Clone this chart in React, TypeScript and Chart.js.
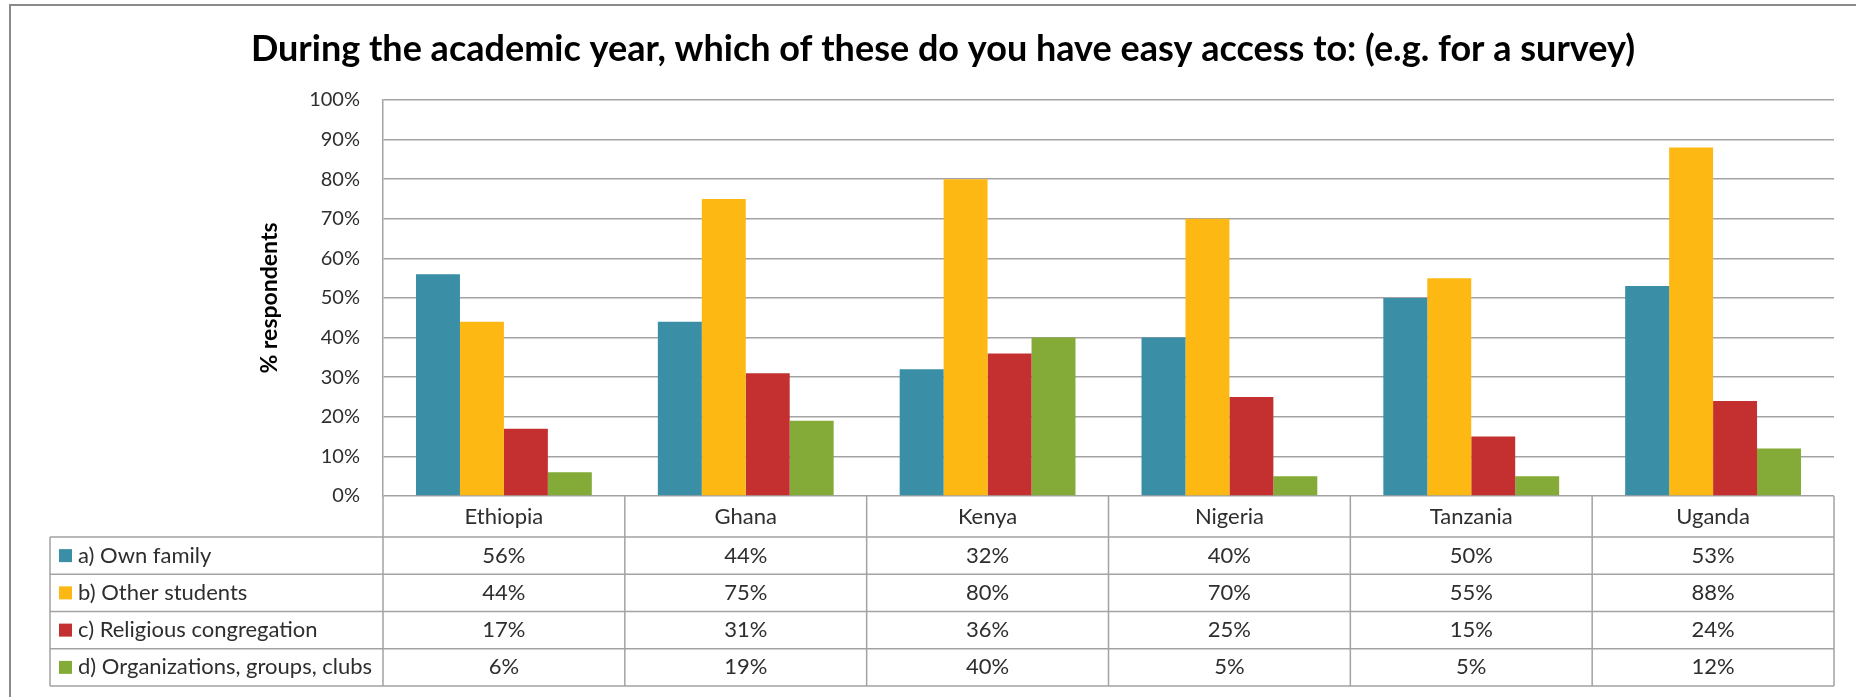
import { useEffect, useRef } from 'react';
import { Chart, registerables } from 'chart.js';

Chart.register(...registerables);

const titleText = 'During the academic year, which of these do you have easy access to: (e.g. for a survey)';
const yAxisTitle = '% respondents';

const categories = ['Ethiopia', 'Ghana', 'Kenya', 'Nigeria', 'Tanzania', 'Uganda'];
const seriesNames = [
  'a) Own family',
  'b) Other students',
  'c) Religious congregation',
  'd) Organizations, groups, clubs',
];
const ownFamily = [56, 44, 32, 40, 50, 53];
const otherStudents = [44, 75, 80, 70, 55, 88];
const religiousCongregation = [17, 31, 36, 25, 15, 24];
const organizationsGroupsClubs = [6, 19, 40, 5, 5, 12];
const seriesColors = ['#3A8EA6', '#FDB813', '#C3302F', '#84AB37'];

const FONT = 'Lato, "Open Sans", sans-serif';
const GRID = '#a3a3a3';
const TEXT = '#2e2e2e';

const framePlugin = {
  id: 'frame',
  beforeDraw(chart: any) {
    const { ctx } = chart;
    ctx.save();
    ctx.fillStyle = '#ffffff';
    ctx.fillRect(0, 0, chart.width, chart.height);
    ctx.strokeStyle = '#8a8a8a';
    ctx.lineWidth = 2;
    ctx.strokeRect(10, 5, chart.width + 20, chart.height + 20);
    ctx.restore();
  },
};

const tablePlugin = {
  id: 'dataTable',
  afterDraw(chart: any) {
    const { ctx, chartArea } = chart;
    const xs = chart.scales.x;
    const n = categories.length;
    const step = (chartArea.right - chartArea.left) / n;
    const bounds: number[] = [];
    for (let i = 0; i <= n; i++) bounds.push(chartArea.left + i * step);
    const top = chartArea.bottom;
    const headerH = 41;
    const rowH = 37.25;
    const tableLeft = 50;
    const rowsTop = top + headerH;
    const values = [ownFamily, otherStudents, religiousCongregation, organizationsGroupsClubs];
    const bottom = rowsTop + rowH * values.length;

    ctx.save();
    ctx.strokeStyle = GRID;
    ctx.lineWidth = 1.5;
    ctx.beginPath();
    bounds.forEach((b) => {
      ctx.moveTo(b, top);
      ctx.lineTo(b, bottom);
    });
    ctx.moveTo(tableLeft, rowsTop);
    ctx.lineTo(tableLeft, bottom);
    for (let r = 0; r <= values.length; r++) {
      const y = rowsTop + r * rowH;
      ctx.moveTo(tableLeft, y);
      ctx.lineTo(chartArea.right, y);
    }
    ctx.stroke();

    ctx.fillStyle = TEXT;
    ctx.font = `22px ${FONT}`;
    ctx.textBaseline = 'middle';
    ctx.textAlign = 'center';
    categories.forEach((c, i) => {
      ctx.fillText(c, xs.getPixelForValue(i), top + headerH / 2);
    });
    values.forEach((vals, r) => {
      const yMid = rowsTop + r * rowH + rowH / 2;
      vals.forEach((v, i) => {
        ctx.fillStyle = TEXT;
        ctx.textAlign = 'center';
        ctx.fillText(`${v}%`, xs.getPixelForValue(i), yMid);
      });
      ctx.fillStyle = seriesColors[r];
      ctx.fillRect(59, yMid - 6.5, 13, 13);
      ctx.fillStyle = TEXT;
      ctx.textAlign = 'left';
      ctx.fillText(seriesNames[r], 78, yMid);
    });
    ctx.restore();
  },
};

export default function App() {
  const ref = useRef<HTMLCanvasElement | null>(null);

  useEffect(() => {
    if (!ref.current) return;
    const allSeries = [ownFamily, otherStudents, religiousCongregation, organizationsGroupsClubs];
    const chart = new Chart(ref.current, {
      type: 'bar',
      data: {
        labels: categories,
        datasets: allSeries.map((d, i) => ({
          label: seriesNames[i],
          data: d,
          backgroundColor: seriesColors[i],
          borderWidth: 0,
          categoryPercentage: 0.727,
          barPercentage: 1.0,
        })),
      },
      options: {
        animation: false,
        responsive: false,
        maintainAspectRatio: false,
        layout: { padding: { left: 52, right: 22, top: 0, bottom: 201 } },
        plugins: {
          legend: { display: false },
          tooltip: { enabled: false },
          title: {
            display: true,
            text: titleText,
            color: '#000000',
            font: { family: FONT, size: 36, weight: 'bold' },
            padding: { top: 28, bottom: 28.8 },
          },
        },
        scales: {
          x: { display: false },
          y: {
            min: 0,
            max: 100,
            afterFit: (scale: any) => {
              scale.width = 331;
            },
            ticks: {
              stepSize: 10,
              padding: 23,
              color: TEXT,
              font: { family: FONT, size: 20 },
              callback: (v: any) => `${v}%`,
            },
            grid: { color: GRID, lineWidth: 1.5, drawTicks: false },
            border: { display: true, color: GRID, width: 1.5 },
            title: {
              display: true,
              text: yAxisTitle,
              color: '#000000',
              font: { family: FONT, size: 23, weight: 'bold' },
              padding: { top: 204, bottom: 0 },
            },
          },
        },
      },
      plugins: [framePlugin, tablePlugin],
    });
    return () => chart.destroy();
  }, []);

  return (
    <div style={{ position: 'absolute', left: 0, top: 0, width: 1856, height: 697 }}>
      <canvas ref={ref} width={1856} height={697} style={{ width: 1856, height: 697, display: 'block' }} />
    </div>
  );
}
